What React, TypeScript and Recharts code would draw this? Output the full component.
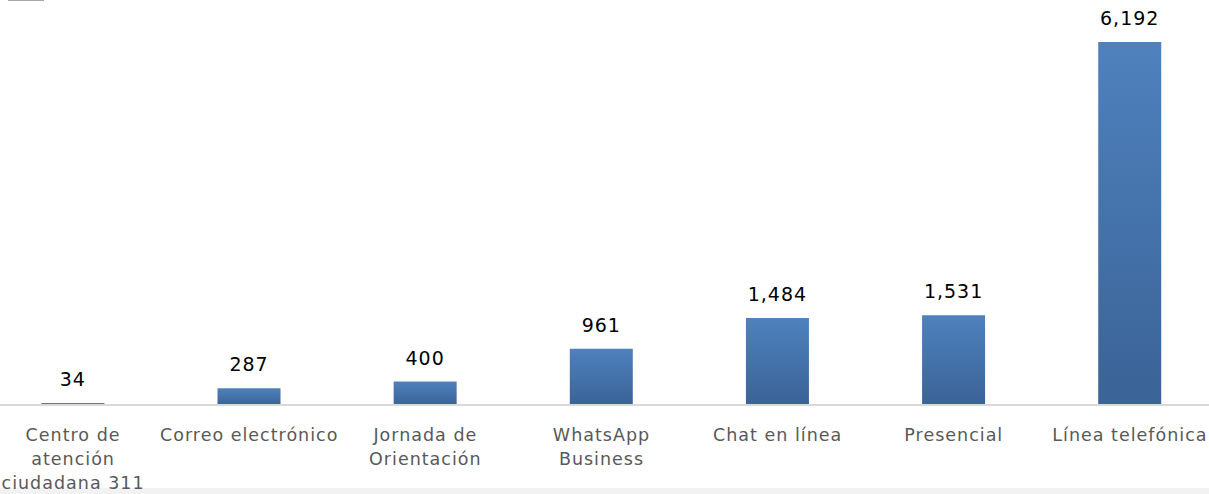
import { BarChart, Bar, XAxis, YAxis, LabelList } from 'recharts';

const categories: string[] = [
  'Centro de\natención\nciudadana 311',
  'Correo electrónico',
  'Jornada de\nOrientación',
  'WhatsApp\nBusiness',
  'Chat en línea',
  'Presencial',
  'Línea telefónica',
];

const values: number[] = [34, 287, 400, 961, 1484, 1531, 6192];

const data = categories.map((name, i) => ({ name, value: values[i] }));

const FONT = "'DejaVu Sans', sans-serif";

const CategoryTick = (props: any) => {
  const { x, y, payload } = props;
  const lines: string[] = String(payload.value).split('\n');
  return (
    <text
      x={x}
      y={y}
      textAnchor='middle'
      fill='#595959'
      fontFamily={FONT}
      fontSize={17.5}
      letterSpacing={1}
    >
      {lines.map((line, i) => (
        <tspan key={i} x={x} dy={i === 0 ? 28 : 24}>
          {line}
        </tspan>
      ))}
    </text>
  );
};

const App = () => {
  return (
    <div style={{ position: 'absolute', left: -15, top: 0, width: 1233, height: 494 }}>
      <div style={{ position: 'absolute', left: 0, top: 488, width: 1240, height: 6, background: '#f2f2f2' }} />
      <div style={{ position: 'absolute', left: 23, top: 0, width: 36, height: 1, background: '#a6a6a6' }} />
      <BarChart
        width={1233}
        height={494}
        data={data}
        margin={{ top: 0, right: 0, left: 0, bottom: 0 }}
        barCategoryGap='32%'
      >
        <defs>
          <linearGradient id='barFill' x1='0' y1='0' x2='0' y2='1'>
            <stop offset='0%' stopColor='#4f81bd' />
            <stop offset='100%' stopColor='#3a6397' />
          </linearGradient>
        </defs>
        <XAxis
          dataKey='name'
          axisLine={{ stroke: '#d9d9d9', strokeWidth: 2 }}
          tickLine={false}
          interval={0}
          tick={<CategoryTick />}
          height={89}
        />
        <YAxis hide domain={[0, 6908]} />
        <Bar dataKey='value' fill='url(#barFill)' isAnimationActive={false}>
          <LabelList
            dataKey='value'
            position='top'
            offset={17}
            fill='#000000'
            fontFamily={FONT}
            fontSize={19}
            letterSpacing={1}
            formatter={(v: any) => Number(v).toLocaleString('en-US')}
          />
        </Bar>
      </BarChart>
    </div>
  );
};

export default App;
